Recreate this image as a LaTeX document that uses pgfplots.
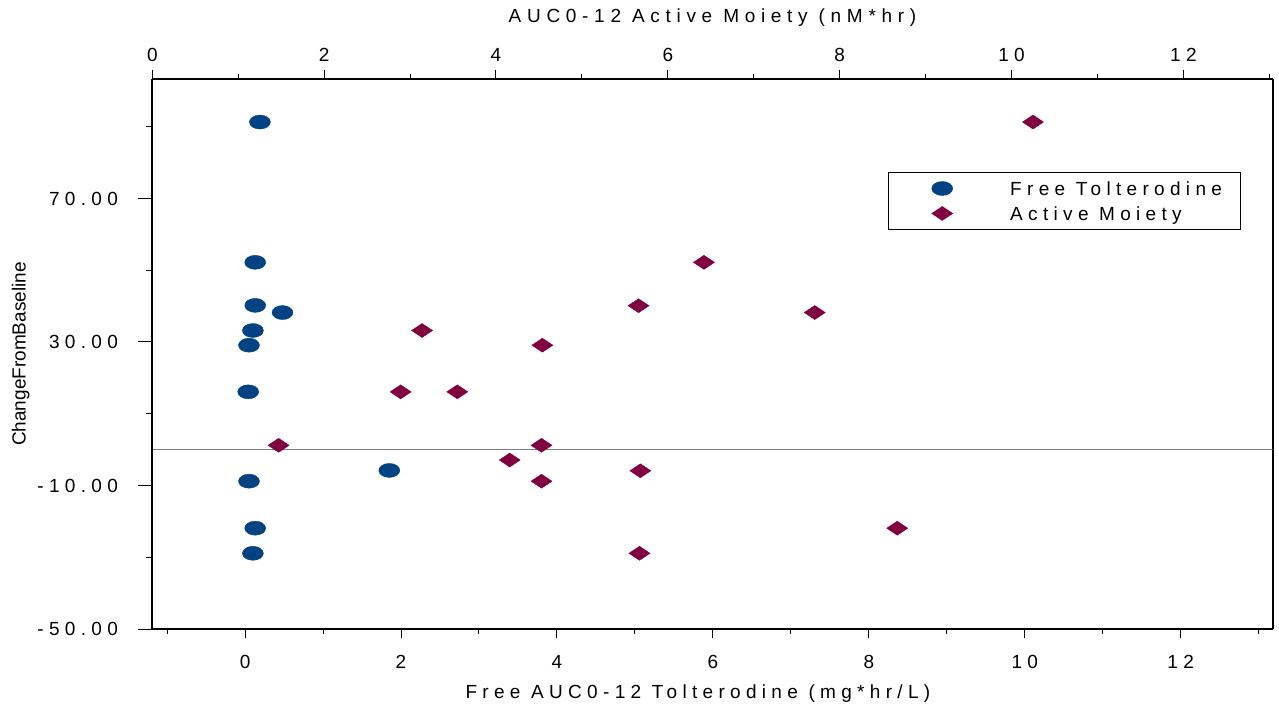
\documentclass[border=0pt]{standalone}
\usepackage{pgfplots}
\pgfplotsset{compat=1.18}
\usepackage{fontspec}
\setmainfont{Liberation Sans}
\newfontfamily\spaced[LetterSpace=28]{Liberation Sans}
\definecolor{ftblue}{RGB}{0,66,130}
\definecolor{ammaroon}{RGB}{128,0,64}
\pgfplotsset{
  myleg/.style={legend image code/.code={\path[draw=none] (0pt,0pt) -- (52pt,0pt); \draw[##1] plot coordinates {(18pt,0pt)};}},
}
\pgfplotstableread{
x y
0.19 91.3
0.13 52.2
0.13 40.2
0.48 38.2
0.10 33.2
0.05 29.1
0.04 16.1
1.85 -5.8
0.05 -8.8
0.13 -21.9
0.10 -28.9
}\freetol
\pgfplotstableread{
x y
10.25 91.3
6.42 52.2
5.66 40.1
7.71 38.2
3.14 33.2
4.54 29.1
2.89 16.1
3.55 16.1
1.47 1.2
4.53 1.2
4.16 -2.9
5.68 -5.9
4.53 -8.8
8.67 -21.9
5.67 -28.9
}\activem
\begin{document}
\fontsize{9.5}{11.4}\selectfont
\begin{tikzpicture}
\pgfplotsset{
  base/.style={
    scale only axis, width=560.2pt, height=275pt,
    ymin=-50, ymax=103.3,
    tick align=outside,
    every tick/.style={black, line width=0.5pt},
    axis line style={line width=1pt},
    ticklabel style={font=\spaced},
    label style={font=\spaced},
  },
}
\begin{axis}[base, name=ax,
  xmin=-1.19, xmax=13.18,
  axis x line*=bottom, axis y line*=right, ytick=\empty,
  xtick={0,2,...,12}, xticklabels={0,2,4,6,8,10,12},
  minor xtick={-1,1,3,...,13},
  major tick length=4.65pt, minor tick length=2.25pt,
  xticklabel style={anchor=north, inner sep=0pt, yshift=-8.5pt},
  xlabel={Free AUC0-12 Tolterodine (mg*hr/L)},
  xlabel style={at={(axis description cs:0.487,-0.1255)}, anchor=base},
]
\draw[gray, line width=0.6pt] (axis cs:-1.19,0) -- (axis cs:13.18,0);
\addplot[only marks, mark=*, mark size=3.5pt, mark options={xscale=1.5, fill=ftblue, draw=ftblue, line width=0.2pt}] table[x=x,y=y] {\freetol};
\end{axis}
\begin{axis}[base, at={(ax.south west)}, anchor=south west,
  xmin=0, xmax=13.04,
  axis x line*=top, hide y axis,
  xtick={0,2,...,12}, xticklabels={0,2,4,6,8,10,12},
  minor xtick={1,3,...,13},
  major tick length=4.65pt, minor tick length=2.5pt,
  xticklabel style={anchor=south, inner sep=0pt, yshift=4pt},
  xlabel={\addfontfeature{LetterSpace=30}AUC0-12 Active Moiety (nM*hr)},
  xlabel style={at={(axis description cs:0.5,1.1036)}, anchor=base},
  legend style={at={(0.6564,0.8304)}, anchor=north west, draw=black, line width=0.5pt,
    inner xsep=9pt, inner ysep=4.25pt, row sep=5.3pt, font=\spaced,
    nodes={inner xsep=0pt, inner ysep=0pt, text height=7pt, text depth=0.2pt}},
  legend cell align=left,
]
\addlegendimage{only marks, mark=*, mark size=3.5pt, mark options={xscale=1.5, fill=ftblue, draw=ftblue, line width=0.2pt}, myleg}
\addlegendentry{Free Tolterodine}
\addplot[only marks, mark=diamond*, mark size=3.5pt, mark options={xscale=2, fill=ammaroon, draw=ammaroon, line width=0.2pt}, myleg] table[x=x,y=y] {\activem};
\addlegendentry{Active Moiety}
\end{axis}
\begin{axis}[base, at={(ax.south west)}, anchor=south west,
  xmin=0, xmax=1, hide x axis, axis y line*=left,
  ytick={-50,-10,30,70}, yticklabels={-50.00,-10.00,30.00,70.00},
  minor ytick={-30,10,50,90},
  major tick length=7pt, minor tick length=3.25pt,
  yticklabel style={anchor=east, inner sep=0pt, xshift=-10pt},
  ylabel={ChangeFromBaseline},
  ylabel style={at={(axis description cs:-0.1175,0.5)}, anchor=center, font=\normalfont},
]
\end{axis}
\pgfresetboundingbox
\path[use as bounding box] (ax.south west) ++(-76.15pt,-39pt) rectangle ++(639.5pt,353.5pt);
\end{tikzpicture}
\end{document}
